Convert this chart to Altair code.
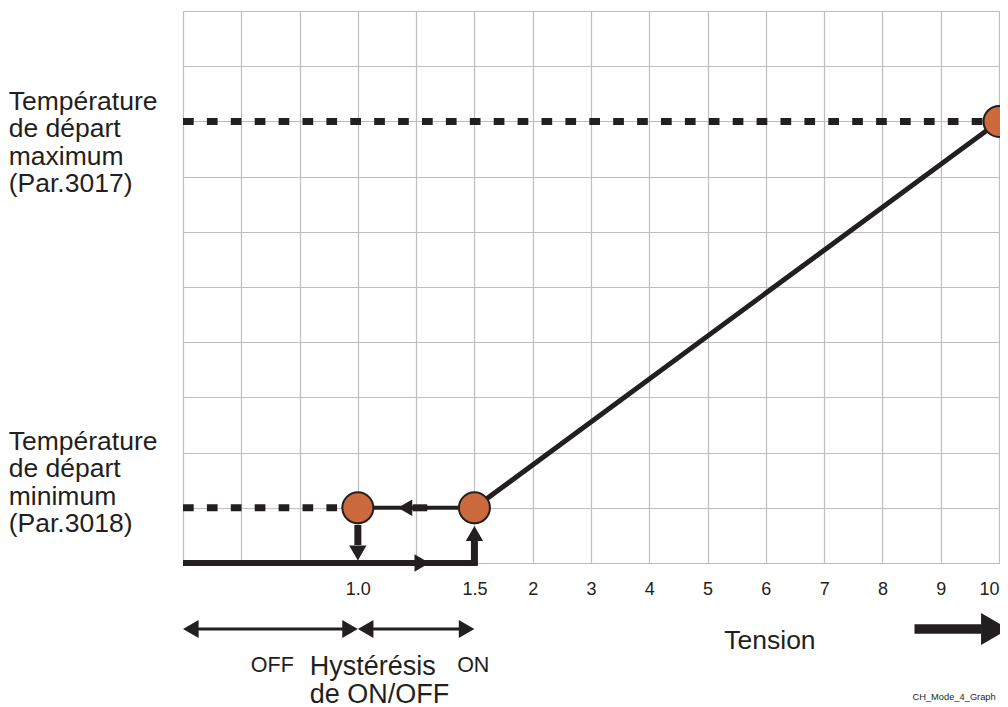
import altair as alt
import pandas as pd

# ---------------- data ----------------
# x axis: grid positions (one cell each) and the voltage labels shown under them
grid_x = list(range(15))
tick_pos = [3, 5, 6, 7, 8, 9, 10, 11, 12, 13, 14]
tick_lab = ["1.0", "1.5", "2", "3", "4", "5", "6", "7", "8", "9", "10"]
grid_y = list(range(11))

# temperature levels (grid rows)
level_min = 1
level_max = 8

# key points of the characteristic: OFF point, ON point, maximum point
pt_x = [3, 5, 14]
pt_y = [1, 1, 8]

# ramp of the characteristic
ramp_x = [5, 14]
ramp_y = [1, 8]

INK = "#231f20"
ORANGE = "#cc6a3e"
GRID = "#bdbdbd"
FONT = "Liberation Sans"

W = 816
xs = alt.Scale(domain=[0, 14], nice=False, zero=False)
ys = alt.Scale(domain=[0, 10], nice=False, zero=False)

label_expr = " : ".join(f"datum.value == {p} ? '{l}'" for p, l in zip(tick_pos, tick_lab)) + " : ''"

AX_X = alt.Axis(
    values=grid_x, grid=True, gridColor=GRID, gridWidth=1.2,
    domain=False, ticks=False, labelPadding=17, labelFontSize=18,
    labelFont=FONT, labelColor=INK, labelExpr=label_expr, title=None,
    labelAngle=0, labelFlush=True, labelOverlap=False, labelBound=False)
AX_Y = alt.Axis(
    values=grid_y, grid=True, gridColor=GRID, gridWidth=1.2,
    labels=False, ticks=False, domain=False, title=None)


def X(field="x:Q"):
    return alt.X(field, scale=xs, axis=AX_X)


def Y(field="y:Q"):
    return alt.Y(field, scale=ys, axis=AX_Y)


# ---------------- layers ----------------
# dotted level lines
dotted = pd.DataFrame({
    "x": [0, 0], "x2": [14, pt_x[0]], "y": [level_max, level_min],
})
dotted_layer = alt.Chart(dotted).mark_rule(
    color=INK, strokeWidth=7, strokeDash=[10.7, 13.2], strokeCap="butt"
).encode(x=X(), x2="x2:Q", y=Y())

# ramp line
ramp = pd.DataFrame({"x": [ramp_x[0]], "x2": [ramp_x[1]], "y": [ramp_y[0]], "y2": [ramp_y[1]]})
ramp_layer = alt.Chart(ramp).mark_rule(color=INK, strokeWidth=5).encode(
    x=X(), x2="x2:Q", y=Y(), y2="y2:Q",
)

# hysteresis path segments (x, x2, y, y2, stroke width)
seg = pd.DataFrame({
    "x":  [0,    5,     3,    3.94, 3,    0.134, 3.134, 12.55],
    "x2": [5.05, 5,     5,    4.19, 3,    2.866, 4.866, 13.70],
    "y":  [0,   -0.05,  1,    1,    0.69, -1.196, -1.196, -1.196],
    "y2": [0,    0.42,  1,    1,    0.326, -1.196, -1.196, -1.196],
    "w":  [6,    7,     4,    7,    7,    3,     3,     9.5],
})
seg_layer = alt.Chart(seg).mark_rule(color=INK, strokeCap="butt").encode(
    x=X(), x2="x2:Q", y=Y(), y2="y2:Q",
    strokeWidth=alt.StrokeWidth("w:Q", scale=None),
)

# arrow heads
heads = pd.DataFrame({
    "x": [4.10, 3.81, 5, 3, 0.134, 2.866, 3.134, 4.866, 13.93],
    "y": [0, 1, 0.534, 0.18, -1.196, -1.196, -1.196, -1.196, -1.196],
    "shape": ["triangle-right", "triangle-left", "triangle-up", "triangle-down",
              "triangle-left", "triangle-right", "triangle-left", "triangle-right",
              "triangle-right"],
    "s": [300, 270, 300, 300, 324, 324, 324, 324, 1024],
})
head_layer = alt.Chart(heads).mark_point(filled=True, color=INK, opacity=1, strokeWidth=0).encode(
    x=X(), y=Y(),
    shape=alt.Shape("shape:N", scale=None),
    size=alt.Size("s:Q", scale=None),
)

# key points
pts = pd.DataFrame({"x": pt_x, "y": pt_y})
pt_layer = alt.Chart(pts).mark_point(
    shape="circle", filled=True, fill=ORANGE, stroke=INK, strokeWidth=2, opacity=1, size=960
).encode(x=X(), y=Y())

# texts
left_txt = pd.DataFrame({
    "x": [-2.99, -2.99],
    "y": [8.21, 2.05],
    "t": ["Température\nde départ\nmaximum\n(Par.3017)",
          "Température\nde départ\nminimum\n(Par.3018)"],
})
left_layer = alt.Chart(left_txt).mark_text(
    align="left", baseline="alphabetic", fontSize=26.5, font=FONT, color=INK,
    lineBreak="\n", lineHeight=27.5
).encode(x=X(), y=Y(), text="t:N")

small_txt = pd.DataFrame({
    "x": [1.532, 4.98], "y": [-1.975, -1.975], "t": ["OFF", "ON"],
})
small_layer = alt.Chart(small_txt).mark_text(
    align="center", baseline="alphabetic", fontSize=21.5, font=FONT, color=INK
).encode(x=X(), y=Y(), text="t:N")

hyst_txt = pd.DataFrame({"x": [2.174], "y": [-2.03], "t": ["Hystérésis\nde ON/OFF"]})
hyst_layer = alt.Chart(hyst_txt).mark_text(
    align="left", baseline="alphabetic", fontSize=27, font=FONT, color=INK,
    lineBreak="\n", lineHeight=28.3
).encode(x=X(), y=Y(), text="t:N")

tension_txt = pd.DataFrame({"x": [10.07], "y": [-1.56], "t": ["Tension"]})
tension_layer = alt.Chart(tension_txt).mark_text(
    align="center", baseline="alphabetic", fontSize=26.5, font=FONT, color=INK
).encode(x=X(), y=Y(), text="t:N")

ref_txt = pd.DataFrame({"x": [13.23], "y": [-2.48], "t": ["CH_Mode_4_Graph"]})
ref_layer = alt.Chart(ref_txt).mark_text(
    align="center", baseline="alphabetic", fontSize=9.3, font=FONT, color=INK
).encode(x=X(), y=Y(), text="t:N")

chart = alt.layer(
    dotted_layer, ramp_layer, seg_layer, head_layer, pt_layer,
    left_layer, small_layer, hyst_layer, tension_layer, ref_layer,
).properties(
    width=W, height=552,
    autosize=alt.AutoSizeParams(type="none"),
    padding={"left": 175, "top": 3, "right": 1, "bottom": 144},
).configure_view(stroke=None).configure(background="white")

chart.save("out.html", embed_options={"renderer": "svg", "actions": False})
